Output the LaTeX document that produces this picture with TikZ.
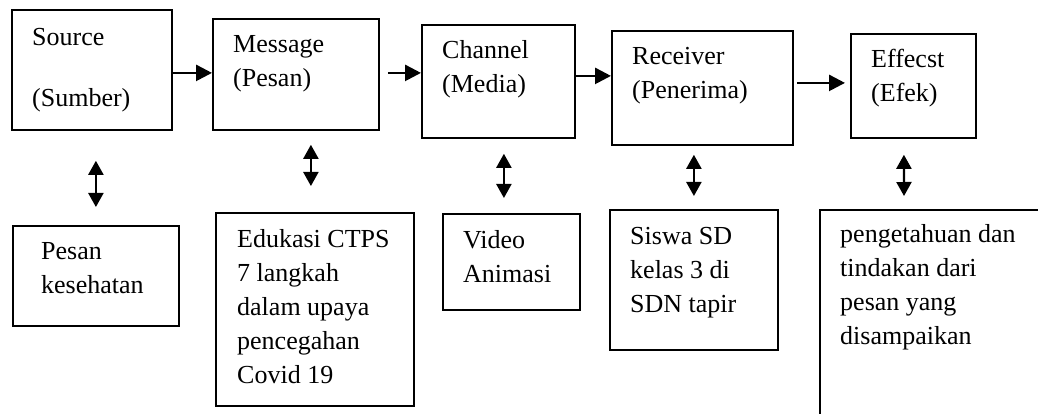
\documentclass[tikz,border=0pt]{standalone}
\usepackage{fontspec}
\setmainfont{Liberation Serif}
\usetikzlibrary{arrows.meta}
% multi-line box text, first baseline on the node's base
\newcommand{\boxlines}[1]{\parbox[t]{230pt}{\fontsize{26pt}{34pt}\selectfont\raggedright #1}}
\tikzset{
  blk/.style={draw, line width=1.8pt, anchor=north west, inner sep=0pt},
  txt/.style={anchor=base west, inner sep=0pt},
  flow/.style={line width=2.6pt, -{Triangle[length=16pt,width=16pt]}},
  link/.style={line width=2.2pt, {Triangle[length=14pt,width=15pt]}-{Triangle[length=14pt,width=15pt]}},
}
\begin{document}
\begin{tikzpicture}[x=1pt,y=-1pt]
\clip (0,0) rectangle (1038,414);

% upper row: SMCRE model
\node[blk, minimum width=160pt, minimum height=120pt] (src)  at (11,9)   {};
\node[blk, minimum width=166pt, minimum height=111pt] (msg)  at (212,18) {};
\node[blk, minimum width=153pt, minimum height=113pt] (chan) at (421,24) {};
\node[blk, minimum width=181pt, minimum height=114pt] (recv) at (611,30) {};
\node[blk, minimum width=125pt, minimum height=104pt] (eff)  at (850,33) {};

\node[txt] (src-t)  at ([xshift=21pt,yshift=-37pt]src.north west)  {\boxlines{Source\\[27pt](Sumber)}};
\node[txt] (msg-t)  at ([xshift=21pt,yshift=-35pt]msg.north west)  {\boxlines{Message\\(Pesan)}};
\node[txt] (chan-t) at ([xshift=21pt,yshift=-35pt]chan.north west) {\boxlines{Channel\\(Media)}};
\node[txt] (recv-t) at ([xshift=21pt,yshift=-35pt]recv.north west) {\boxlines{Receiver\\(Penerima)}};
\node[txt] (eff-t)  at ([xshift=21pt,yshift=-35pt]eff.north west)  {\boxlines{Effecst\\(Efek)}};

% lower row: details
\node[blk, minimum width=166pt, minimum height=100pt] (pesan) at (12,225)  {};
\node[blk, minimum width=198pt, minimum height=193pt] (edu)   at (215,212) {};
\node[blk, minimum width=137pt, minimum height=96pt]  (vid)   at (442,213) {};
\node[blk, minimum width=168pt, minimum height=140pt] (siswa) at (609,209) {};
\node[blk, line width=2pt, minimum width=240pt, minimum height=230pt] (peng) at (819,209) {};

\node[txt] (pesan-t) at ([xshift=29pt,yshift=-34pt]pesan.north west) {\boxlines{Pesan\\kesehatan}};
\node[txt] (edu-t)   at ([xshift=22pt,yshift=-35pt]edu.north west)   {\boxlines{Edukasi CTPS\\7 langkah\\dalam upaya\\pencegahan\\Covid 19}};
\node[txt] (vid-t)   at ([xshift=21pt,yshift=-35pt]vid.north west)   {\boxlines{Video\\Animasi}};
\node[txt] (siswa-t) at ([xshift=21pt,yshift=-35pt]siswa.north west) {\boxlines{Siswa SD\\kelas 3 di\\SDN tapir}};
\node[txt] (peng-t)  at ([xshift=21pt,yshift=-33pt]peng.north west)  {\boxlines{pengetahuan dan\\tindakan dari\\pesan yang\\disampaikan}};

% flow arrows along the upper row
\coordinate (sm) at ([yshift=-3pt]src.east);
\coordinate (mc) at ([yshift=1.5pt]msg.east);
\coordinate (cr) at ([yshift=5.5pt]chan.east);
\coordinate (re) at ([yshift=5pt]recv.east);
\draw[flow] (sm) -- (sm -| msg.west);
\draw[flow, shorten <=8pt] (mc) -- (mc -| chan.west);
\draw[flow] (cr) -- (cr -| recv.west);
\draw[flow, shorten <=3pt, shorten >=5pt] (re) -- (re -| eff.west);

% two-way links between rows
\draw[link] ([xshift=4pt,yshift=-30pt]src.south)    -- ([yshift=18pt]pesan.north);
\draw[link] ([xshift=15pt,yshift=-14pt]msg.south)   -- ([xshift=-4pt,yshift=26pt]edu.north);
\draw[link] ([xshift=5.5pt,yshift=-15pt]chan.south) -- ([xshift=-7.5pt,yshift=15pt]vid.north);
\draw[link] ([xshift=-8.5pt,yshift=-9pt]recv.south) -- ([yshift=13pt]siswa.north);
\draw[link] ([xshift=-9.5pt,yshift=-16pt]eff.south) -- ([xshift=-36pt,yshift=13pt]peng.north);
\end{tikzpicture}
\end{document}
